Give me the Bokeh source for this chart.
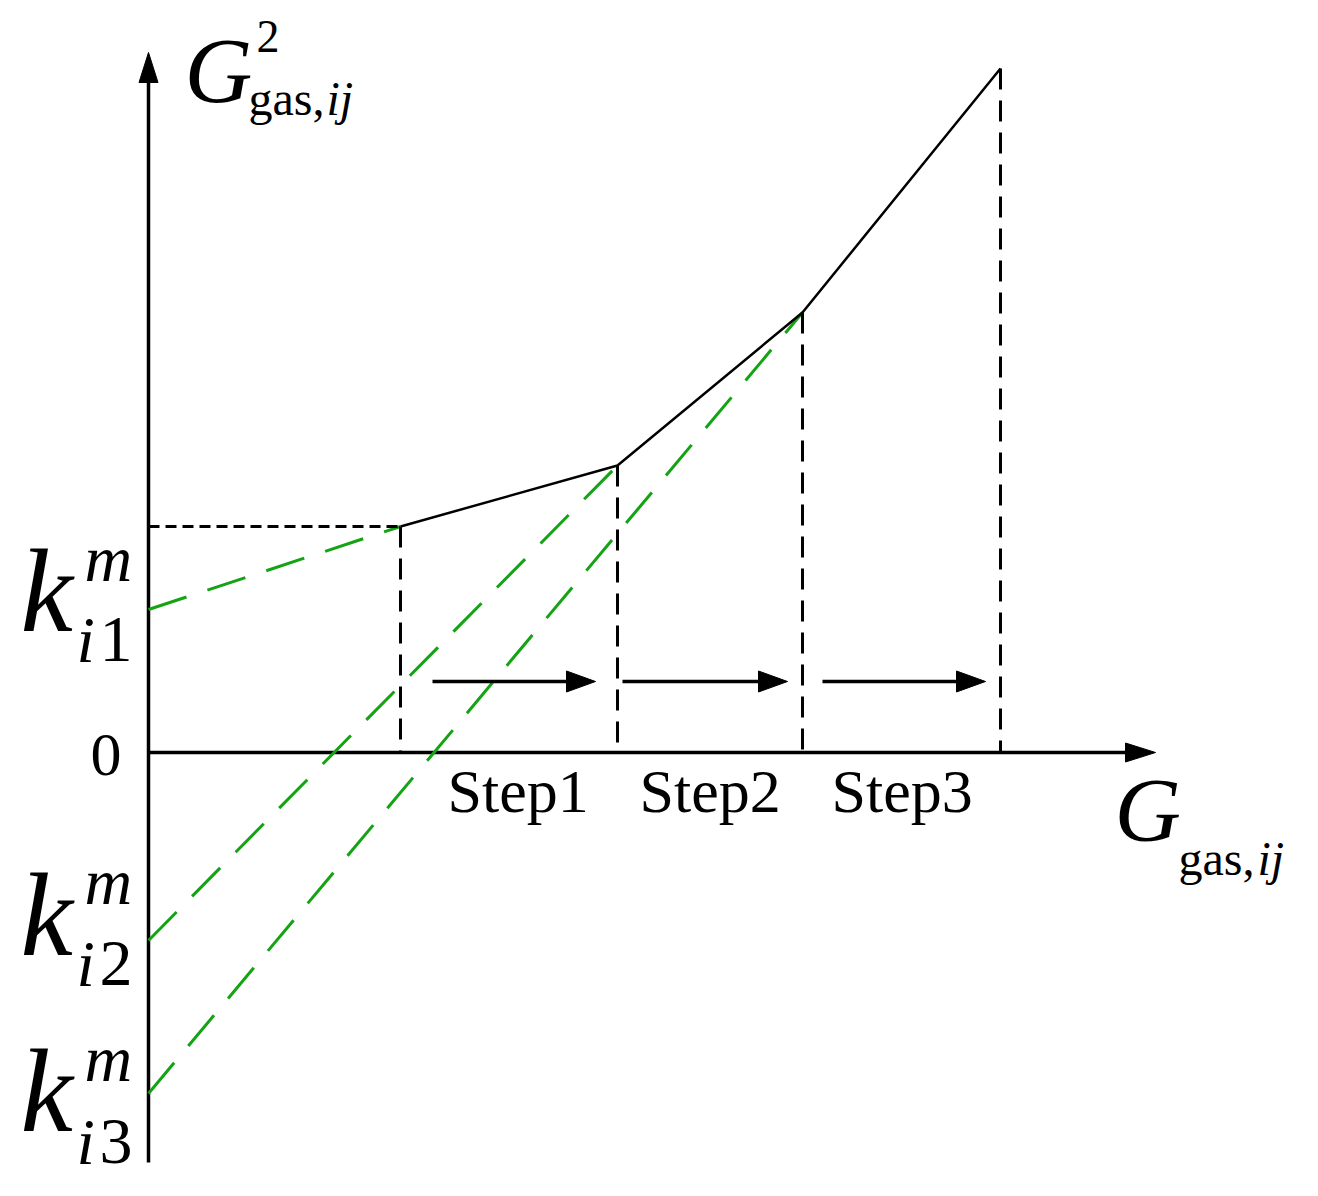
from bokeh.plotting import figure
from bokeh.models import Range1d
from bokeh.embed import file_html
from bokeh.resources import INLINE
from bokeh.core.properties import value

# ---- schematic data (chart units) ----
break_x = [2.52, 4.69, 6.54, 8.52]      # G_gas,ij breakpoints
break_y = [2.26, 2.87, 4.40, 6.84]      # G^2_gas,ij at the breakpoints
intercepts = [1.43, -1.88, -3.41]       # k_i1^m, k_i2^m, k_i3^m
step_labels = ["Step1", "Step2", "Step3"]
step_arrow_start = [2.84, 4.74, 6.74]
step_arrow_end = [4.47, 6.39, 8.37]
step_arrow_y = 0.71
axis_x_end = 10.07
axis_y_start = -4.10
axis_y_end = 7.00

FONT = value("Liberation Serif")
GREEN = "#13a313"
PX = 0.01  # one pixel in chart units (1 unit = 100 px)

p = figure(width=1302, height=1180, x_range=Range1d(-1.48, 11.54), y_range=Range1d(-4.28, 7.52),
           output_backend="svg", toolbar_location=None, min_border=0,
           x_axis_type=None, y_axis_type=None)
p.grid.visible = False
p.outline_line_color = None
p.background_fill_color = "white"
p.border_fill_color = "white"


def head(xt, yt, direction, length, width):
    L, W = length * PX, width * PX / 2
    if direction == "right":
        return [xt, xt - L, xt - L], [yt, yt + W, yt - W]
    return [xt, xt - W, xt + W], [yt, yt - L, yt - L]


# ---- axes ----
p.line([0, 0], [axis_y_start, axis_y_end - 0.25], line_color="black", line_width=3.5)
p.line([0, axis_x_end - 0.25], [0, 0], line_color="black", line_width=3.5)
hx, hy = head(0, axis_y_end, "up", 30, 19)
p.patch(hx, hy, fill_color="black", line_color="black", line_width=1)
hx, hy = head(axis_x_end, 0, "right", 30, 19)
p.patch(hx, hy, fill_color="black", line_color="black", line_width=1)

# ---- green secant lines ----
for k, bx, by in zip(intercepts, break_x[:3], break_y[:3]):
    p.line([0, bx], [k, by], line_color=GREEN, line_width=3, line_dash="40 22")

# ---- black dashed guides ----
p.line([0, break_x[0]], [break_y[0], break_y[0]], line_color="black", line_width=3, line_dash="11 6")
for bx, by in zip(break_x, break_y):
    p.line([bx, bx], [by, 0], line_color="black", line_width=3, line_dash="21 11")

# ---- piecewise curve ----
p.line(break_x, break_y, line_color="black", line_width=2.5)

# ---- step arrows ----
for xs, xe in zip(step_arrow_start, step_arrow_end):
    p.line([xs, xe - 0.22], [step_arrow_y, step_arrow_y], line_color="black", line_width=3.5)
    hx, hy = head(xe, step_arrow_y, "right", 29, 21)
    p.patch(hx, hy, fill_color="black", line_color="black", line_width=1)


def X(px):
    return (px - 148) * PX


def Y(py):
    return (752 - py) * PX


def txt(xs, ys, texts, size, style="normal"):
    # ys are wanted baselines in picture pixels; compensate the renderer's baseline offset
    shift = 0.36 * size
    p.text(x=[X(v) for v in xs], y=[Y(v - shift) for v in ys], text=texts, text_font=FONT,
           text_font_size=f"{size}px", text_font_style=style, text_baseline="alphabetic",
           text_align="left", text_color="black")


# step labels and zero
txt([447, 639, 831], [813, 813, 813], step_labels, 62)
txt([90], [777], ["0"], 62)

# y axis label  G^2_{gas,ij}
txt([184], [103], ["G"], 94, "italic")
txt([256], [53], ["2"], 46)
txt([248], [115], ["gas,"], 48)
txt([326], [115], ["ij"], 48, "italic")

# x axis label  G_{gas,ij}
txt([1114], [843], ["G"], 92, "italic")
txt([1178], [875], ["gas,"], 48)
txt([1257], [875], ["ij"], 48, "italic")

# k labels
k_base = [633, 957, 1133]
m_base = [582, 905, 1082]
sub_base = [663, 987, 1165]
sub_digits = ["1", "2", "3"]
txt([20] * 3, k_base, ["k"] * 3, 118, "italic")
txt([84] * 3, m_base, ["m"] * 3, 66, "italic")
txt([76] * 3, sub_base, ["i"] * 3, 66, "italic")
txt([99] * 3, sub_base, sub_digits, 66)

open("out.html", "w").write(file_html(p, INLINE))
